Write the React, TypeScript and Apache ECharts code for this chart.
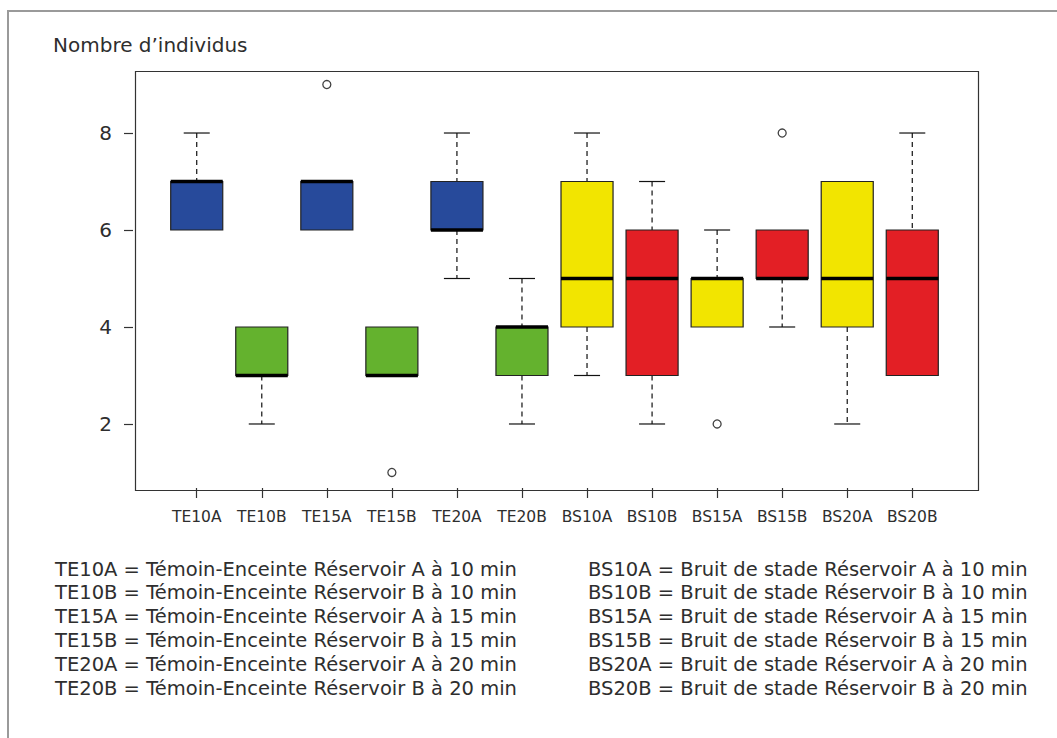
import React, { useEffect, useRef } from "react";
import * as echarts from "echarts";

const categories = ["TE10A", "TE10B", "TE15A", "TE15B", "TE20A", "TE20B", "BS10A", "BS10B", "BS15A", "BS15B", "BS20A", "BS20B"];
const lowerWhisker = [6, 2, 6, 3, 5, 2, 3, 2, 4, 4, 2, 3];
const q1 = [6, 3, 6, 3, 6, 3, 4, 3, 4, 5, 4, 3];
const median = [7, 3, 7, 3, 6, 4, 5, 5, 5, 5, 5, 5];
const q3 = [7, 4, 7, 4, 7, 4, 7, 6, 5, 6, 7, 6];
const upperWhisker = [8, 4, 7, 4, 8, 5, 8, 7, 6, 6, 7, 8];
const outliers: [number, number][] = [[2, 9], [3, 1], [8, 2], [9, 8]];
const groupColor = ["#274a9b", "#64b22e", "#274a9b", "#64b22e", "#274a9b", "#64b22e", "#f2e500", "#e31f25", "#f2e500", "#e31f25", "#f2e500", "#e31f25"];
const yTicks = [2, 4, 6, 8];
const legendLeft = [
  "TE10A = Témoin-Enceinte Réservoir A à 10 min",
  "TE10B = Témoin-Enceinte Réservoir B à 10 min",
  "TE15A = Témoin-Enceinte Réservoir A à 15 min",
  "TE15B = Témoin-Enceinte Réservoir B à 15 min",
  "TE20A = Témoin-Enceinte Réservoir A à 20 min",
  "TE20B = Témoin-Enceinte Réservoir B à 20 min",
];
const legendRight = [
  "BS10A = Bruit de stade Réservoir A à 10 min",
  "BS10B = Bruit de stade Réservoir B à 10 min",
  "BS15A = Bruit de stade Réservoir A à 15 min",
  "BS15B = Bruit de stade Réservoir B à 15 min",
  "BS20A = Bruit de stade Réservoir A à 20 min",
  "BS20B = Bruit de stade Réservoir B à 20 min",
];
const yTitle = "Nombre d’individus";

const FONT = "'DejaVu Sans', 'Open Sans', sans-serif";

export default function App() {
  const ref = useRef<HTMLDivElement>(null);
  useEffect(() => {
    if (!ref.current) return;
    const chart = echarts.init(ref.current, null, { renderer: "svg" });
    const boxData = categories.map((_, i) => [i, lowerWhisker[i], q1[i], median[i], q3[i], upperWhisker[i]]);

    const renderItem = (params: any, api: any) => {
      const idx = api.value(0);
      const x = api.coord([idx, 0])[0];
      const y = (v: number) => api.coord([idx, v])[1];
      const bw = api.size([1, 0])[0] * 0.8;
      const cap = bw / 2;
      const lo = api.value(1), b1 = api.value(2), md = api.value(3), b3 = api.value(4), hi = api.value(5);
      const children: any[] = [];
      const dash = { stroke: "#111", lineWidth: 1.2, lineDash: [5, 4] };
      const solid = { stroke: "#111", lineWidth: 1.2 };
      if (hi > b3) {
        children.push({ type: "line", shape: { x1: x, y1: y(hi), x2: x, y2: y(b3) }, style: dash });
        children.push({ type: "line", shape: { x1: x - cap / 2, y1: y(hi), x2: x + cap / 2, y2: y(hi) }, style: solid });
      }
      if (lo < b1) {
        children.push({ type: "line", shape: { x1: x, y1: y(b1), x2: x, y2: y(lo) }, style: dash });
        children.push({ type: "line", shape: { x1: x - cap / 2, y1: y(lo), x2: x + cap / 2, y2: y(lo) }, style: solid });
      }
      children.push({
        type: "rect",
        shape: { x: x - bw / 2, y: y(b3), width: bw, height: y(b1) - y(b3) },
        style: { fill: groupColor[idx], stroke: "#222", lineWidth: 1.2 },
      });
      children.push({
        type: "line",
        shape: { x1: x - bw / 2, y1: y(md), x2: x + bw / 2, y2: y(md) },
        style: { stroke: "#000", lineWidth: 3.5 },
      });
      return { type: "group", children };
    };

    const legendGraphics: any[] = [];
    legendLeft.forEach((t, i) => {
      legendGraphics.push({
        type: "text", left: 55, top: 559 + i * 23.8,
        style: { text: t, font: `19.5px ${FONT}`, lineHeight: 20, fill: "#2e2e2e" },
      });
    });
    legendRight.forEach((t, i) => {
      legendGraphics.push({
        type: "text", left: 588, top: 559 + i * 23.8,
        style: { text: t, font: `19.5px ${FONT}`, lineHeight: 20, fill: "#2e2e2e" },
      });
    });

    chart.setOption({
      animation: false,
      backgroundColor: "#ffffff",
      grid: { left: 164.2, right: 112.2, top: 69, bottom: 250 },
      xAxis: {
        type: "category",
        data: categories,
        boundaryGap: true,
        axisLine: { show: false },
        axisTick: { show: true, alignWithLabel: true, length: 10, lineStyle: { color: "#333", width: 1.2 } },
        axisLabel: { color: "#2e2e2e", fontSize: 15.5, fontFamily: FONT, margin: 21, interval: 0 },
        splitLine: { show: false },
      },
      yAxis: {
        type: "value",
        min: 0.68,
        max: 9.32,
        offset: 31.2,
        axisLine: { show: false },
        axisTick: { show: true, length: 9, customValues: yTicks, lineStyle: { color: "#333", width: 1.2 } },
        axisLabel: { color: "#2e2e2e", fontSize: 20, fontFamily: FONT, margin: 21, customValues: yTicks },
        splitLine: { show: false },
      },
      graphic: [
        {
          type: "rect", left: 7, top: 10, z: -10,
          shape: { width: 1060, height: 740 },
          style: { fill: "#fff", stroke: "#9a9a9a", lineWidth: 2 },
        },
        {
          type: "rect", left: 133, top: 69, z: 10,
          shape: { width: 843, height: 419 },
          style: { fill: "none", stroke: "#333", lineWidth: 1.2 },
        },
        {
          type: "text", left: 53, top: 35,
          style: { text: yTitle, font: `20px ${FONT}`, lineHeight: 20, fill: "#2e2e2e" },
        },
        ...legendGraphics,
      ],
      series: [
        {
          type: "custom",
          renderItem,
          data: boxData,
          encode: { x: 0, y: [1, 2, 3, 4, 5] },
          clip: true,
        },
        {
          type: "scatter",
          data: outliers,
          symbol: "circle",
          symbolSize: 8,
          itemStyle: { color: "#fff", borderColor: "#111", borderWidth: 1.3 },
        },
      ],
    });
    return () => chart.dispose();
  }, []);
  return <div ref={ref} style={{ position: "fixed", left: 0, top: 0, width: 1057, height: 738 }} />;
}
